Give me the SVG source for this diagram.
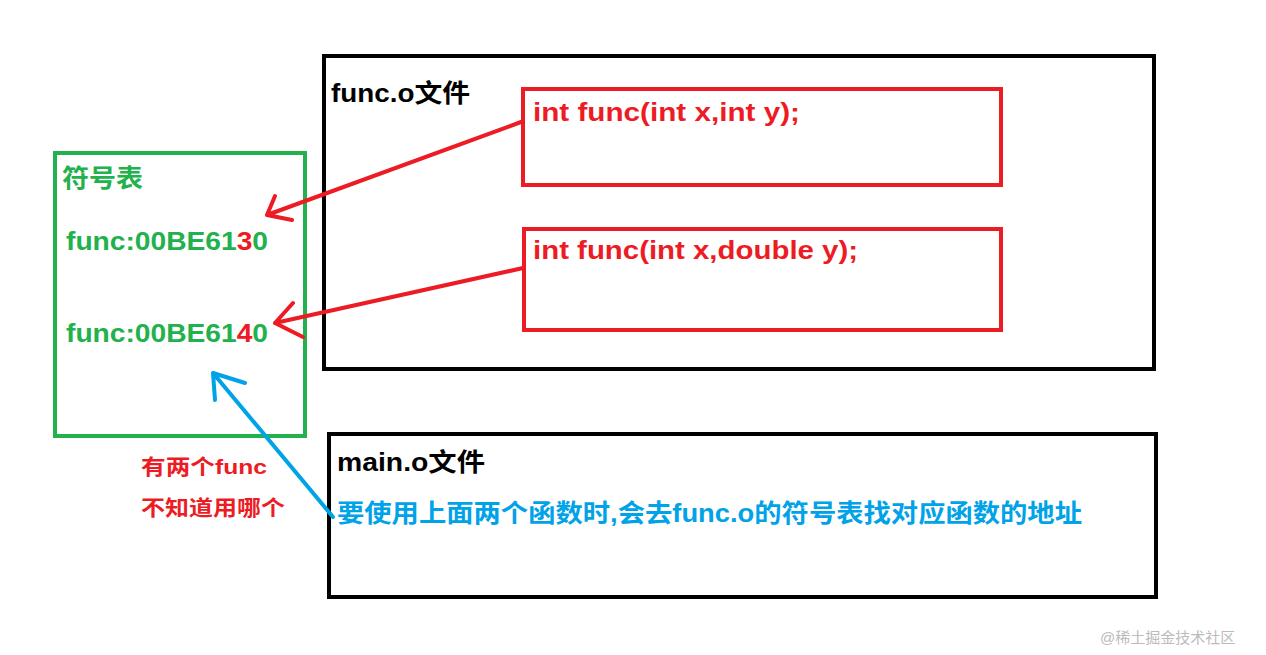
<svg xmlns="http://www.w3.org/2000/svg" width="1266" height="655" viewBox="0 0 1266 655">
<style>
text{font-family:"Liberation Sans","Noto Sans CJK SC",sans-serif;font-weight:bold;font-size:25px}
.k{fill:#000}.g{fill:#22b14c}.r{fill:#ed1c24}.b{fill:#00a2e8}
.box{fill:none;stroke-width:4}
</style>
<rect width="1266" height="655" fill="#fff"/>
<g id="funcO"><rect class="box" x="324" y="56" width="830" height="313" stroke="#000"/><text class="k" x="331" y="102" textLength="139" lengthAdjust="spacingAndGlyphs">func.o文件</text></g>
<g id="decl1"><rect class="box" x="523" y="89" width="478" height="96" stroke="#ed1c24"/><text class="r" x="533" y="121" textLength="267" lengthAdjust="spacingAndGlyphs">int func(int x,int y);</text></g>
<g id="decl2"><rect class="box" x="524" y="229" width="477" height="101" stroke="#ed1c24"/><text class="r" x="533" y="259" textLength="325" lengthAdjust="spacingAndGlyphs">int func(int x,double y);</text></g>
<g id="symtab"><rect class="box" x="55" y="153" width="250" height="283" stroke="#22b14c"/>
<text class="g" x="62" y="187" textLength="81" lengthAdjust="spacingAndGlyphs">符号表</text>
<text class="g" x="66" y="250" textLength="202" lengthAdjust="spacingAndGlyphs">func:00BE61<tspan class="r">3</tspan>0</text>
<text class="g" x="66" y="342" textLength="202" lengthAdjust="spacingAndGlyphs">func:00BE61<tspan class="r">4</tspan>0</text></g>
<g id="note"><text class="r" x="141" y="474" style="font-size:21px" textLength="126" lengthAdjust="spacingAndGlyphs">有两个func</text><text class="r" x="141" y="515" style="font-size:21px" textLength="144" lengthAdjust="spacingAndGlyphs">不知道用哪个</text></g>
<g id="mainO"><rect class="box" x="329" y="434" width="827" height="163" stroke="#000"/><text class="k" x="337" y="471" textLength="148" lengthAdjust="spacingAndGlyphs">main.o文件</text>
<text class="b" x="337" y="522" textLength="745" lengthAdjust="spacingAndGlyphs">要使用上面两个函数时,会去func.o的符号表找对应函数的地址</text></g>
<g id="connectors" fill="none" stroke-width="4" stroke-linecap="round" stroke-linejoin="round">
<path d="M521 122L267 215M275 196L267 215L292 220" stroke="#ed1c24"/>
<path d="M523 268L275 323M293 303L275 323L303 337" stroke="#ed1c24"/>
<path d="M333 517L213 373M215 400L213 373L245 383" stroke="#00a2e8"/>
</g>
<text x="1100" y="643" style="font-weight:normal;font-size:15px;fill:#bbb">@稀土掘金技术社区</text>
</svg>
